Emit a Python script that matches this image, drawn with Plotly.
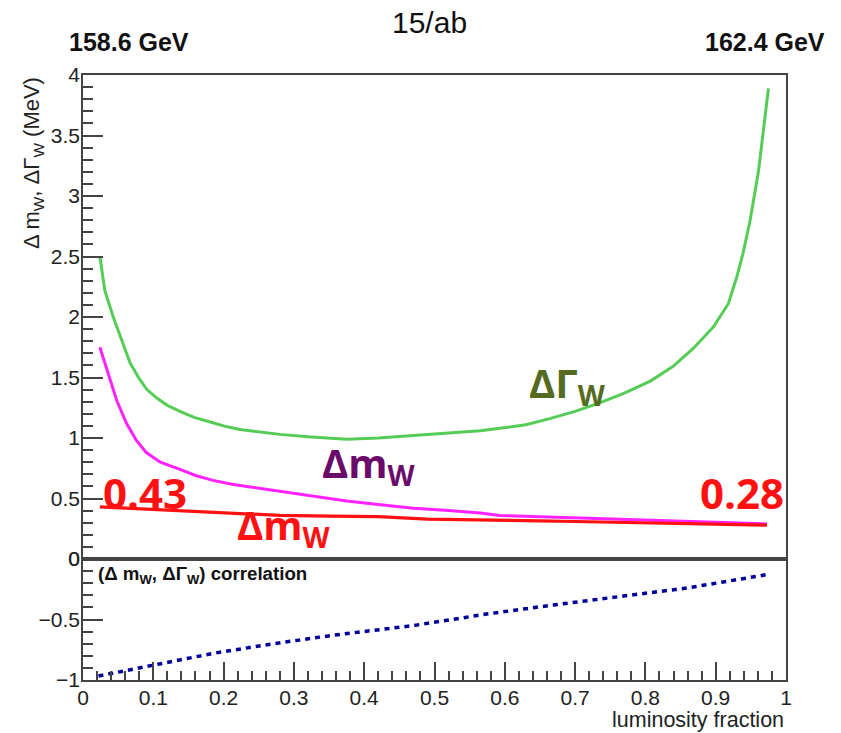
import plotly.graph_objects as go
from plotly.subplots import make_subplots

# Luminosity fraction spent at the lower energy point
gamma_x = [0.024, 0.031, 0.043, 0.055, 0.067, 0.08, 0.091, 0.105, 0.12, 0.138, 0.158,
           0.176, 0.2, 0.223, 0.25, 0.28, 0.32, 0.375, 0.42, 0.47, 0.52, 0.565, 0.593,
           0.63, 0.664, 0.70, 0.735, 0.77, 0.807, 0.839, 0.868, 0.897, 0.918, 0.930,
           0.939, 0.949, 0.961, 0.970, 0.975]
# Width uncertainty (MeV)
gamma_err = [2.50, 2.22, 2.00, 1.81, 1.62, 1.49, 1.40, 1.33, 1.27, 1.22, 1.17,
             1.14, 1.10, 1.07, 1.05, 1.03, 1.01, 0.99, 1.00, 1.02, 1.04, 1.06, 1.08,
             1.11, 1.16, 1.22, 1.29, 1.37, 1.47, 1.59, 1.74, 1.92, 2.11, 2.33,
             2.53, 2.80, 3.21, 3.63, 3.89]

# Mass uncertainty, width floating (MeV)
mass_x = [0.024, 0.034, 0.048, 0.062, 0.076, 0.09, 0.11, 0.138, 0.16, 0.185, 0.21,
          0.233, 0.28, 0.327, 0.375, 0.42, 0.47, 0.52, 0.565, 0.593, 0.65, 0.7,
          0.75, 0.8, 0.85, 0.9, 0.94, 0.973]
mass_err = [1.75, 1.56, 1.31, 1.12, 0.98, 0.88, 0.80, 0.74, 0.69, 0.65, 0.62,
            0.60, 0.56, 0.52, 0.48, 0.45, 0.42, 0.40, 0.38, 0.36, 0.35, 0.34,
            0.33, 0.32, 0.31, 0.30, 0.295, 0.29]

# Mass uncertainty, width fixed (MeV)
mfix_x = [0.024, 0.08, 0.138, 0.2, 0.28, 0.35, 0.42, 0.49, 0.565, 0.593, 0.65,
          0.7, 0.78, 0.85, 0.92, 0.973]
mfix_err = [0.43, 0.415, 0.40, 0.38, 0.36, 0.355, 0.35, 0.33, 0.32, 0.32, 0.315,
            0.31, 0.30, 0.295, 0.285, 0.28]

# Correlation between mass and width
corr_x = [0.022, 0.1, 0.185, 0.271, 0.356, 0.47, 0.574, 0.669, 0.764, 0.859, 0.972]
corr = [-0.967, -0.876, -0.78, -0.70, -0.63, -0.55, -0.455, -0.38, -0.31, -0.24, -0.13]

fig = make_subplots(rows=2, cols=1, shared_xaxes=False, vertical_spacing=0,
                    row_heights=[0.8, 0.2])

fig.add_trace(go.Scatter(x=gamma_x, y=gamma_err, mode="lines",
                         line=dict(color="#55cc55", width=3)), row=1, col=1)
fig.add_trace(go.Scatter(x=mass_x, y=mass_err, mode="lines",
                         line=dict(color="#ff22ff", width=3)), row=1, col=1)
fig.add_trace(go.Scatter(x=mfix_x, y=mfix_err, mode="lines",
                         line=dict(color="#ff1111", width=3.2)), row=1, col=1)
fig.add_trace(go.Scatter(x=corr_x, y=corr, mode="lines",
                         line=dict(color="#00009a", width=3.5, dash="5px,5px")),
              row=2, col=1)

helv = "Liberation Sans, Arial, sans-serif"
axis_font = dict(family=helv, size=21, color="#222")
tick_col = "#444"


def frame_axis(**kw):
    # closed frame around each panel, ROOT-like inside ticks
    base = dict(showline=True, linecolor="#444", linewidth=1.6, mirror=True,
                showgrid=False, zeroline=False)
    base.update(kw)
    return base


fig.update_xaxes(**frame_axis(range=[0, 1], showticklabels=False, ticks=""),
                 row=1, col=1)
fig.update_xaxes(**frame_axis(range=[0, 1], tickmode="linear", dtick=0.1, tick0=0,
                              ticks="inside", ticklen=18, tickwidth=2,
                              tickcolor=tick_col, tickfont=axis_font,
                              ticklabelstandoff=-2,
                              minor=dict(dtick=0.02, ticks="inside", ticklen=9,
                                         tickwidth=2, tickcolor=tick_col)),
                 row=2, col=1)
fig.update_yaxes(**frame_axis(range=[0, 4], tickmode="linear", dtick=0.5, tick0=0,
                              ticks="inside", ticklen=20, tickwidth=2,
                              tickcolor=tick_col, tickfont=axis_font,
                              ticklabelstandoff=-3,
                              minor=dict(dtick=0.1, ticks="inside", ticklen=10,
                                         tickwidth=2, tickcolor=tick_col)),
                 row=1, col=1)
fig.update_yaxes(**frame_axis(range=[-1, 0], tickmode="linear", dtick=0.5, tick0=-1,
                              ticks="inside", ticklen=20, tickwidth=2,
                              tickcolor=tick_col, tickfont=axis_font,
                              ticklabelstandoff=-3,
                              minor=dict(dtick=0.1, ticks="inside", ticklen=10,
                                         tickwidth=2, tickcolor=tick_col)),
                 row=2, col=1)

label_font = "Open Sans, Noto Sans, sans-serif"
annotations = [
    # curve labels in the upper panel
    dict(x=0.632, y=1.44, xref="x", yref="y", text="<b>ΔΓ<sub>W</sub></b>",
         font=dict(family=label_font, size=40, color="#556b1f"),
         xanchor="left", yanchor="middle", showarrow=False),
    dict(x=0.337, y=0.78, xref="x", yref="y", text="<b>Δm<sub>W</sub></b>",
         font=dict(family=label_font, size=40, color="#6a0a6a"),
         xanchor="left", yanchor="middle", showarrow=False),
    dict(x=0.216, y=0.27, xref="x", yref="y", text="<b>Δm<sub>W</sub></b>",
         font=dict(family=label_font, size=40, color="#ff1111"),
         xanchor="left", yanchor="middle", showarrow=False),
    dict(x=0.025, y=0.55, xref="x", yref="y", text="<b>%.2f</b>" % mfix_err[0],
         font=dict(family=label_font, size=42, color="#ff1111"),
         xanchor="left", yanchor="middle", showarrow=False),
    dict(x=1.0, y=0.55, xref="x", yref="y", text="<b>%.2f</b>" % mfix_err[-1],
         font=dict(family=label_font, size=42, color="#ff1111"),
         xanchor="right", yanchor="middle", showarrow=False),
    # lower panel label
    dict(x=0.018, y=0.1736, xref="paper", yref="paper",
         text="<b>(Δ m<sub>W</sub>, ΔΓ<sub>W</sub>) correlation</b>",
         font=dict(family=helv, size=18.7, color="#111"),
         xanchor="left", yanchor="middle", showarrow=False),
    # header texts
    dict(x=0.4935, y=1.086, xref="paper", yref="paper", text="15/ab",
         font=dict(family=helv, size=30, color="#111"),
         xanchor="center", yanchor="middle", showarrow=False),
    dict(x=-0.023, y=1.054, xref="paper", yref="paper", text="<b>158.6 GeV</b>",
         font=dict(family=helv, size=25, color="#111"),
         xanchor="left", yanchor="middle", showarrow=False),
    dict(x=1.059, y=1.054, xref="paper", yref="paper", text="<b>162.4 GeV</b>",
         font=dict(family=helv, size=25, color="#111"),
         xanchor="right", yanchor="middle", showarrow=False),
    # axis titles
    dict(x=1.0, y=-0.0893, xref="paper", yref="paper", text="luminosity fraction",
         font=dict(family=helv, size=21.5, color="#222"),
         xanchor="right", yanchor="bottom", showarrow=False),
    dict(x=-0.071, y=1.0, xref="paper", yref="paper",
         text="Δ m<sub>W</sub>, ΔΓ<sub>W</sub> (MeV)", textangle=-90,
         font=dict(family=helv, size=22, color="#222"),
         xanchor="center", yanchor="top", showarrow=False),
]

fig.update_layout(
    width=841, height=733,
    margin=dict(l=83, r=55, t=75, b=53),
    paper_bgcolor="white", plot_bgcolor="white",
    showlegend=False,
    annotations=annotations,
)

fig.write_html("out.html")
